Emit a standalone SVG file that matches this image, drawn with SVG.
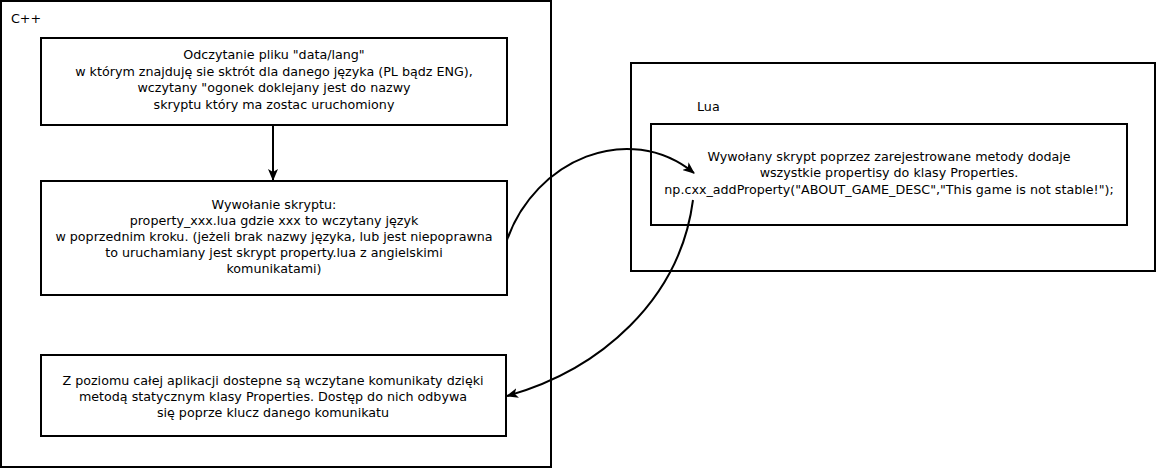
<svg xmlns="http://www.w3.org/2000/svg" width="1156" height="468" viewBox="0 0 1156 468">
<style>
.box{fill:#fff;stroke:#000;stroke-width:2}
.t{font-family:"DejaVu Sans","Liberation Sans",sans-serif;font-size:12.7px;fill:#000;text-anchor:middle}
.lbl{font-family:"DejaVu Sans","Liberation Sans",sans-serif;font-size:12.7px;fill:#000}
.c{fill:none;stroke:#000;stroke-width:2}
</style>
<defs>
<marker id="ah" viewBox="0 0 12 10" refX="11" refY="5" markerWidth="12" markerHeight="10" markerUnits="userSpaceOnUse" orient="auto">
<path d="M0,0 L12,5 L0,10 L3,5 z" fill="#000"/>
</marker>
</defs>
<rect width="1156" height="468" fill="#fff"/>
<g id="cpp">
<rect class="box" x="1" y="1" width="550" height="466"/>
<text class="lbl" x="11" y="23">C++</text>
</g>
<g id="lua">
<rect class="box" x="631" y="63" width="524" height="208"/>
<text class="lbl" x="697" y="111">Lua</text>
</g>
<g id="n1">
<rect class="box" x="41" y="38" width="466" height="87"/>
<text class="t" x="274" y="59">Odczytanie pliku "data/lang"</text>
<text class="t" x="274" y="76">w którym znajduję sie sktrót dla danego języka (PL bądz ENG),</text>
<text class="t" x="274" y="92">wczytany "ogonek doklejany jest do nazwy</text>
<text class="t" x="274" y="109">skryptu który ma zostac uruchomiony</text>
</g>
<g id="n2">
<rect class="box" x="41" y="181" width="466" height="114"/>
<text class="t" x="274" y="209">Wywołanie skryptu:</text>
<text class="t" x="274" y="225">property_xxx.lua gdzie xxx to wczytany język</text>
<text class="t" x="274" y="241">w poprzednim kroku. (jeżeli brak nazwy języka, lub jest niepoprawna</text>
<text class="t" x="274" y="257">to uruchamiany jest skrypt property.lua z angielskimi</text>
<text class="t" x="274" y="273">komunikatami)</text>
</g>
<g id="n3">
<rect class="box" x="41" y="355" width="465" height="81"/>
<text class="t" x="273" y="385">Z poziomu całej aplikacji dostepne są wczytane komunikaty dzięki</text>
<text class="t" x="273" y="401">metodą statycznym klasy Properties. Dostęp do nich odbywa</text>
<text class="t" x="273" y="417">się poprze klucz danego komunikatu</text>
</g>
<g id="n4">
<rect class="box" x="651" y="124" width="476" height="101"/>
<text class="t" x="889" y="161">Wywołany skrypt poprzez zarejestrowane metody dodaje</text>
<text class="t" x="889" y="177">wszystkie propertisy do klasy Properties.</text>
<text class="t" x="889" y="194">np.cxx_addProperty("ABOUT_GAME_DESC","This game is not stable!");</text>
</g>
<g id="connectors">
<line class="c" x1="273" y1="126" x2="273" y2="180" marker-end="url(#ah)"/>
<path class="c" d="M507,240 C535,160 628,120 694,173" marker-end="url(#ah)"/>
<path class="c" d="M693,200 C680,300 600,370 507,396" marker-end="url(#ah)"/>
</g>
</svg>
